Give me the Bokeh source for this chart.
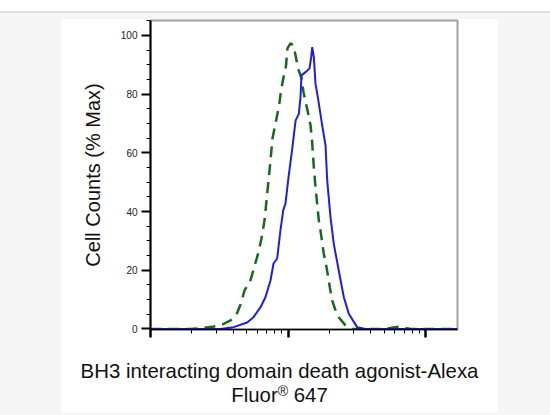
import math
from bokeh.plotting import figure
from bokeh.models import (Range1d, FixedTicker, Div, CustomJSTickFormatter)
from bokeh.layouts import column, row
from bokeh.embed import file_html
from bokeh.resources import INLINE

# ---- data (fluorescence intensity, % of max) ----
green_x = [100, 195, 239, 282, 334, 382, 422, 452, 483, 533, 570, 610, 641, 675,
           710, 746, 771, 811, 861, 890, 927, 966, 991, 1042, 1096, 1135, 1183,
           1253, 1297, 1387, 1459, 1496, 1538, 1585, 1675, 1722, 1820, 1905,
           2014, 2094, 2280, 2618, 2931, 5117, 5848, 6368, 6918, 7780, 17088]
green_y = [0, 0, 0.3, 0.7, 1.5, 2.9, 4.9, 8.3, 13.1, 16.5, 21.3, 26.1, 30.8, 37.0,
           47.2, 57.4, 64.9, 70.0, 76.1, 81.3, 85.7, 89.4, 95.6, 97.3, 96.6, 93.2, 88.8,
           85.4, 80.6, 74.4, 69.3, 64.1, 55.6, 48.3, 37.0, 33.6, 25.7, 21.1,
           14.2, 9.7, 4.6, 1.2, 0, 0, 0.5, 0.7, 0.5, 0, 0]

blue_x = [100, 323, 402, 505, 561, 631, 685, 746, 785, 834, 881, 923, 959, 1009,
          1074, 1135, 1199, 1233, 1253, 1340, 1432, 1476, 1500, 1542, 1585, 1648,
          1774, 1875, 1928, 2037, 2153, 2339, 2547, 2767, 3184, 3664, 17088]
blue_y = [0, 0, 0.6, 2.2, 4.0, 7.4, 10.8, 16.5, 22.3, 24.0, 33.6, 40.4, 42.8, 51.7,
          61.4, 71.0, 73.3, 79.0, 86.4, 87.5, 88.7, 92.6, 96.0, 92.6, 83.5, 79.0,
          69.3, 62.5, 50.6, 38.1, 29.0, 19.9, 10.8, 5.2, 0.6, 0, 0]

y_major = [0, 20, 40, 60, 80, 100]
y_minor = [5, 10, 15, 25, 30, 35, 45, 50, 55, 65, 70, 75, 85, 90, 95, 105]
x_major = [1e2, 1e3, 1e4]
x_minor = [m * d for d in (1e2, 1e3) for m in range(2, 10)]

x_label_1 = "BH3 interacting domain death agonist-Alexa"
x_label_2a = "Fluor"
x_label_reg = "\u00ae"
x_label_2b = "647"
y_label = "Cell Counts (% Max)"

FONT = "Liberation Sans"
BG = "#f5f5f5"

p = figure(width=437, height=335, output_backend="svg", toolbar_location=None,
           x_axis_type="log",
           x_range=Range1d(100, 17088), y_range=Range1d(-0.2, 105.1),
           min_border_left=89, min_border_right=41, min_border_top=1,
           min_border_bottom=25)
p.background_fill_color = "white"
p.border_fill_color = "white"
p.outline_line_color = "#a0a0a0"
p.outline_line_width = 2
p.xgrid.visible = False
p.ygrid.visible = False

# y axis
ya = p.yaxis[0]
ya.ticker = FixedTicker(ticks=y_major, minor_ticks=y_minor)
ya.axis_line_color = "black"
ya.axis_line_width = 2
ya.major_tick_out = 9
ya.major_tick_in = 0
ya.major_tick_line_width = 2
ya.minor_tick_out = 4
ya.minor_tick_in = 0
ya.minor_tick_line_width = 1
ya.major_label_text_font = FONT
ya.major_label_text_font_size = "10px"
ya.major_label_text_color = "#222222"
ya.major_label_standoff = 4
ya.axis_label = y_label
ya.axis_label_text_font = FONT
ya.axis_label_text_font_size = "20px"
ya.axis_label_text_font_style = "normal"
ya.axis_label_text_color = "#111111"
ya.axis_label_standoff = 14

# x axis
xa = p.xaxis[0]
xa.ticker = FixedTicker(ticks=x_major, minor_ticks=x_minor)
xa.formatter = CustomJSTickFormatter(code="return ''")
xa.axis_line_color = "black"
xa.axis_line_width = 1.5
xa.major_tick_out = 8
xa.major_tick_in = 0
xa.major_tick_line_width = 2.5
xa.minor_tick_out = 4
xa.minor_tick_in = 0
xa.minor_tick_line_width = 1
xa.major_label_standoff = 0

# curves
p.line(green_x, green_y, line_color="#176b17", line_width=2.5, line_dash="11 7")
p.line(blue_x, blue_y, line_color="#1c1cf0", line_width=2)

# x title below the plot, centred on the white panel
xtitle = Div(
    text=(f'<div style="padding-top:5px;width:437px;text-align:center;'
          f'font-family:\'{FONT}\';font-size:20.4px;line-height:24px;color:#111111;">'
          f'{x_label_1}<br>{x_label_2a}<sup style="font-size:14px;line-height:0;'
          f'vertical-align:6px;">{x_label_reg}</sup> {x_label_2b}</div>'),
    width=437, height=58, margin=0,
    styles={"background-color": "white"})


def block(w, h, color):
    return Div(text="", width=w, height=h, margin=0,
               styles={"background-color": color})


layout = column(
    block(550, 11, "white"),
    block(550, 2, "#dedede"),
    block(550, 6, BG),
    row(block(61, 393, BG), column(p, xtitle, spacing=0), block(52, 393, BG),
        spacing=0),
    block(550, 5, BG),
    spacing=0,
)

open("out.html", "w").write(file_html(layout, INLINE))
